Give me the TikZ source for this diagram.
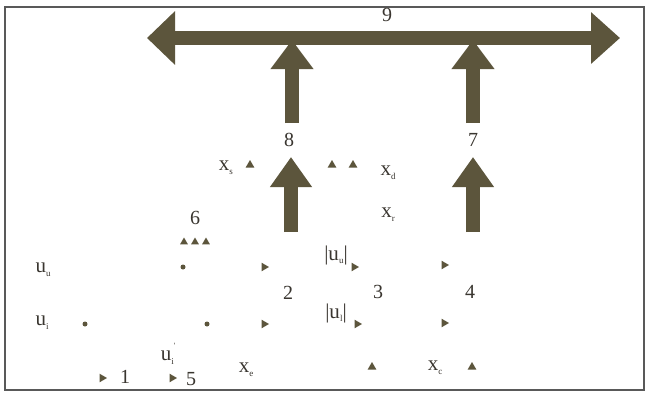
\documentclass[tikz,border=0pt]{standalone}
\usepackage{fontspec}
\setmainfont{Liberation Serif}
\usetikzlibrary{arrows.meta,shapes.geometric}
\definecolor{arrowol}{HTML}{5C553C}
\definecolor{inkc}{HTML}{3A3630}
\newcommand\subx[1]{\raisebox{-0.4ex}{\fontsize{9}{9}\selectfont #1}}
\tikzset{
  lbl/.style={inner sep=0pt, text=inkc, font=\fontsize{21}{21}\selectfont},
  num/.style={inner sep=0pt, text=inkc, font=\fontsize{20}{20}\selectfont},
  uptri/.style={regular polygon, regular polygon sides=3, fill=arrowol, inner sep=0pt, minimum size=10pt},
  smalltri/.style={uptri, minimum size=9pt},
  rtri/.style={uptri, shape border rotate=-90},
  dotm/.style={circle, fill=arrowol, inner sep=0pt, minimum size=5pt},
  bigarrow/.style={draw=arrowol, line width=13.5pt, -{Triangle[length=29pt,width=41pt]}},
  dblarrow/.style={draw=arrowol, line width=14pt, {Triangle[length=28pt,width=52pt]}-{Triangle[length=29pt,width=50pt]}},
  frame/.style={draw=gray!70!black, line width=1.4pt}
}
\begin{document}
\begin{tikzpicture}[x=1pt,y=-1pt]
\useasboundingbox (0,0) rectangle (649,399);
\fill[white] (0,0) rectangle (649,399);
\draw[frame] (5,7) rectangle (644,390);

% big arrows
\coordinate (L9) at (147,38);
\coordinate (R9) at (620,38);
\draw[dblarrow] (L9) -- (R9);
\coordinate (a8b) at (292,123);
\coordinate (a8t) at (292,40);
\coordinate (a7b) at (473,123);
\coordinate (a7t) at (473,40);
\draw[bigarrow] (a8b) -- (a8t);
\draw[bigarrow] (a7b) -- (a7t);
\coordinate (b8b) at (291,232);
\coordinate (b8t) at (291,157);
\coordinate (b7b) at (473,232);
\coordinate (b7t) at (473,157);
\draw[bigarrow,-{Triangle[length=30pt,width=40pt]}] (b8b) -- (b8t);
\draw[bigarrow,-{Triangle[length=30pt,width=40pt]}] (b7b) -- (b7t);

% numbers
\node[num] (n9) at (387,15) {9};
\node[num] (n8) at (289,140) {8};
\node[num] (n7) at (473,140) {7};
\node[num] (n6) at (195,218) {6};
\node[num] (n2) at (288,293) {2};
\node[num] (n3) at (378,292) {3};
\node[num] (n4) at (470,292) {4};
\node[num] (n1) at (125,377) {1};
\node[num] (n5) at (191,379) {5};

% variable labels
\node[lbl] (xs) at (226,168) {x\subx{s}};
\node[lbl] (xd) at (388,173) {x\subx{d}};
\node[lbl] (xr) at (388,215) {x\subx{r}};
\node[lbl] (uu) at (43,270) {u\subx{u}};
\node[lbl] (ui) at (42,323) {u\subx{i}};
\node[lbl] (uip) at (168,354) {u\subx{i}\raisebox{1.3ex}{\fontsize{8}{8}\selectfont\textquotesingle}};
\node[lbl] (auu) at (336,255) {|u\subx{u}|};
\node[lbl] (aul) at (336,313) {|u\subx{l}|};
\node[lbl] (xe) at (246,370) {x\subx{e}};
\node[lbl] (xc) at (435,368) {x\subx{c}};

% up triangles
\node[uptri] (t1) at (250,165) {};
\node[uptri] (t2) at (332,165) {};
\node[uptri] (t3) at (353,165) {};
\node[smalltri] (t4) at (184,242) {};
\node[smalltri] (t5) at (195,242) {};
\node[smalltri] (t6) at (206,242) {};
\node[uptri] (t7) at (372,367) {};
\node[uptri] (t8) at (472,367) {};

% right triangles
\node[rtri] (r1) at (264,267) {};
\node[rtri] (r2) at (354,267) {};
\node[rtri] (r3) at (444,265) {};
\node[rtri] (r4) at (264,324) {};
\node[rtri] (r5) at (357,324) {};
\node[rtri] (r6) at (444,323) {};
\node[rtri] (r7) at (102,378) {};
\node[rtri] (r8) at (172,378) {};

% dots
\node[dotm] (d1) at (183,267) {};
\node[dotm] (d2) at (85,324) {};
\node[dotm] (d3) at (207,324) {};
\end{tikzpicture}
\end{document}
